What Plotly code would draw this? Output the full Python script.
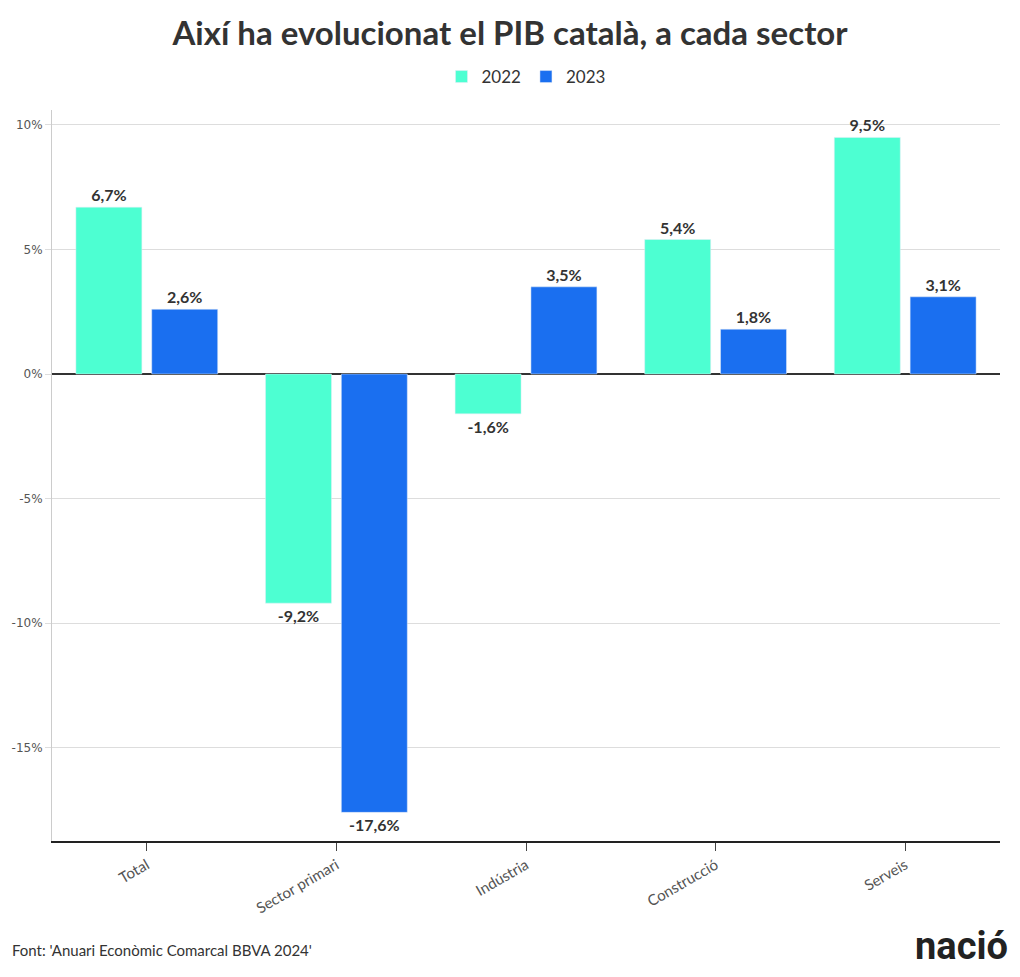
import plotly.graph_objects as go

categories = ["Total", "Sector primari", "Indústria", "Construcció", "Serveis"]
values_2022 = [6.7, -9.2, -1.6, 5.4, 9.5]
values_2023 = [2.6, -17.6, 3.5, 1.8, 3.1]
y_tick_vals = [-15, -10, -5, 0, 5, 10]
y_tick_text = ["-15%", "-10%", "-5%", "0%", "5%", "10%"]

def lab(v):
    return f"{v:.1f}".replace(".", ",") + "%"

FONT = "Lato"
fig = go.Figure()
fig.add_trace(go.Bar(x=categories, y=values_2022, name="2022", marker_color="#4dffd2",
                     text=[lab(v) for v in values_2022], textposition="outside",
                     textfont=dict(family=FONT, size=16, color="#333333", weight="bold"),
                     cliponaxis=False))
fig.add_trace(go.Bar(x=categories, y=values_2023, name="2023", marker_color="#1a6ff0",
                     text=[lab(v) for v in values_2023], textposition="outside",
                     textfont=dict(family=FONT, size=16, color="#333333", weight="bold"),
                     cliponaxis=False))

fig.update_layout(
    width=1020, height=977,
    margin=dict(l=52, r=20, t=110, b=136, autoexpand=False),
    paper_bgcolor="white", plot_bgcolor="white",
    barmode="group", bargap=0.2, bargroupgap=0.13,
    title=dict(text="<b>Així ha evolucionat el PIB català, a cada sector</b>",
               x=0.5, xanchor="center", y=1 - 33/977, yanchor="middle",
               font=dict(family=FONT, size=33, color="#333333")),
    legend=dict(orientation="h", x=0.5, xanchor="center", y=1 + (110-77)/731, yanchor="middle",
                font=dict(family=FONT, size=17, color="#333333"),
                itemwidth=30, traceorder="normal"),
    font=dict(family=FONT, color="#444444"),
)
fig.update_xaxes(showline=True, linecolor="#222222", linewidth=1.5, automargin=False,
                 ticks="outside", ticklen=8, tickcolor="#444444",
                 tickangle=-30, tickfont=dict(family=FONT, size=15, color="#555555"),
                 showgrid=False)
fig.update_yaxes(range=[-18.75, 10.6], tickvals=y_tick_vals, ticktext=y_tick_text,
                 automargin=False,
                 showgrid=True, gridcolor="#dddddd", gridwidth=1,
                 showline=True, linecolor="#cccccc", linewidth=1,
                 ticks="outside", ticklen=6, tickcolor="#dddddd",
                 tickfont=dict(family="DejaVu Sans", size=12, color="#555555"),
                 zeroline=True, zerolinecolor="#333333", zerolinewidth=2)

fig.add_annotation(text="Font: 'Anuari Econòmic Comarcal BBVA 2024'", xref="paper", yref="paper",
                   x=-42/948, y=-(950-841)/731, xanchor="left", yanchor="middle", showarrow=False,
                   font=dict(family=FONT, size=15, color="#333333"))
fig.add_annotation(text="<b>nació</b>", xref="paper", yref="paper",
                   x=1 + 10/948, y=-(946-841)/731, xanchor="right", yanchor="middle", showarrow=False,
                   font=dict(family="Roboto", size=38, color="#222222", weight=900))

fig.write_html("out.html", config={"displayModeBar": False},
               post_script="document.body.style.margin='0';document.body.style.overflow='hidden';")
